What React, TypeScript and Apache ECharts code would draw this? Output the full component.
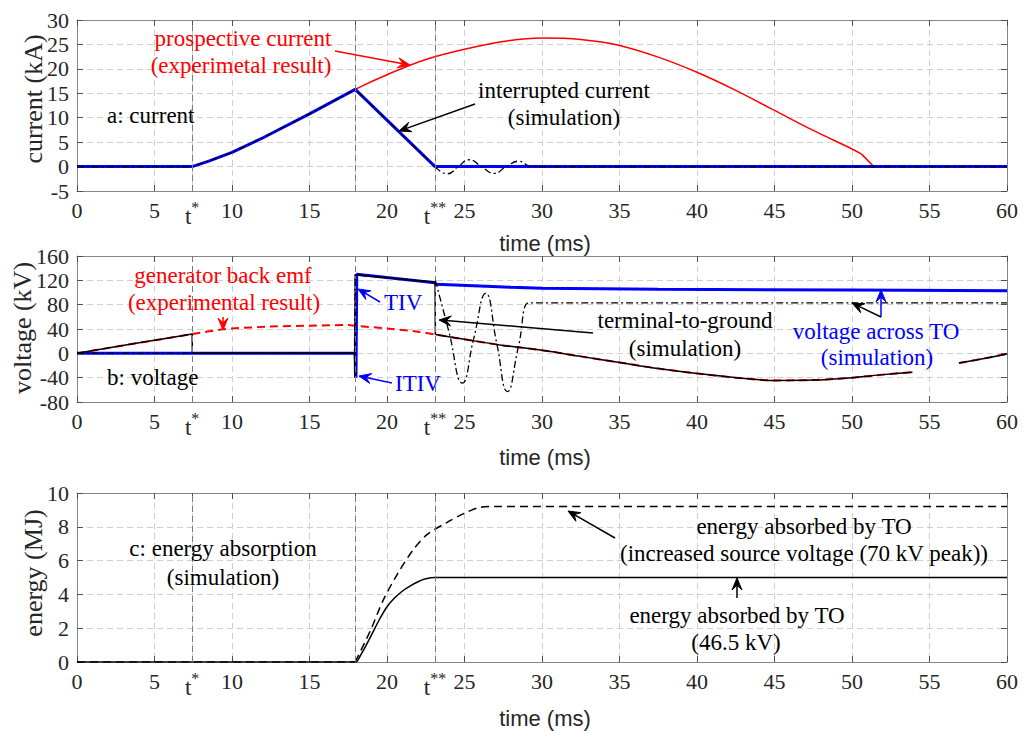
import { useEffect, useRef } from 'react';
import * as echarts from 'echarts';

const SERIF = '"Liberation Serif", "Times New Roman", Times, serif';
const SANS = '"Liberation Sans", Arial, Helvetica, sans-serif';

// special instants (ms)
const T_STAR = 7.43;
const T_ARC = 17.95;
const T_STAR2 = 23.1;

const xLabelValues = [0, 5, T_STAR, 10, 15, 20, T_STAR2, 25, 30, 35, 40, 45, 50, 55, 60];
const xTickValues = [0, 5, T_STAR, 10, 15, T_ARC, 20, T_STAR2, 25, 30, 35, 40, 45, 50, 55, 60];
const markerLines = [T_STAR, T_ARC, T_STAR2];

// ---------- panel a: current (kA) ----------
const prospFlatT = [0, 7.43];
const prospFlatV = [0, 0];
const prospArcT = [7.43, 8.5, 10, 12, 15, 17.95, 20, 22.5, 25, 27.5, 30, 32.5, 35, 37.5, 40, 42.5, 45, 47.5, 50, 50.6];
const prospArcV = [0, 1.1, 2.9, 5.9, 10.8, 15.8, 18.8, 21.9, 24.0, 25.6, 26.3, 26.0, 24.8, 22.4, 19.3, 15.6, 11.5, 7.4, 3.6, 2.6];
const prospEndT = [50.6, 51.4, 60];
const prospEndV = [2.6, 0, 0];

const interT = [0, 7.43, 8.5, 10, 12, 15, 17.95, 23.1, 60];
const interV = [0, 0, 1.1, 2.9, 5.9, 10.8, 15.8, 0, 0];

const simCurT = [0, 7.43, 8.5, 10, 12, 15, 17.95, 23.1];
const simCurV = [0, 0, 1.1, 2.9, 5.9, 10.8, 15.8, 0];
const oscCurT = [23.1, 23.9, 24.6, 25.3, 26.1, 26.9, 27.7, 28.5, 29.3, 30, 60];
const oscCurV = [0, -1.5, 0, 1.4, 0, -1.4, 0, 1.1, 0, 0, 0];

// ---------- panel b: voltage (kV) ----------
const emfT = [0, 2, 4, 6, 7.43, 9.4, 10, 12.5, 15, 17.5, 18, 20, 22, 23.1, 25, 27.5, 30, 32.5, 35, 37.5, 40, 42.5, 45, 47.5, 50, 52, 53.9, 54.0, 56.9, 58, 60];
const emfV: (number | null)[] = [0, 8.8, 17.3, 25.5, 31.7, 39.5, 41, 44, 45.5, 46.5, 45, 41, 35.5, 31, 23, 13, 5, -5, -15, -25, -33, -40, -44.5, -44, -40, -35, -31, null, -16, -11, -1];

const termJumpT = [0, 2, 4, 6, 7.43, 7.44, 17.9, 17.92, 17.95, 23.1, 23.12];
const termJumpV = [0, 8.8, 17.3, 25.5, 31.7, 0, 0, -40, 129, 117, 31];
const termTailT = [23.12, 25, 27.5, 30, 32.5, 35, 37.5, 40, 42.5, 45, 47.5, 50, 52, 53.9, 54.0, 56.9, 58, 60];
const termTailV: (number | null)[] = [31, 23, 13, 5, -5, -15, -25, -33, -40, -44.5, -44, -40, -35, -31, null, -16, -11, -1];

const acrossT = [0, 17.95, 18.0, 18.05, 23.1, 23.12, 26, 28, 30, 37.5, 50, 60];
const acrossV = [0, 0, -40, 130, 116, 113.5, 110.5, 108.5, 107, 105.2, 104, 103];

const ddT = [0, 17.9, 17.95, 23.1];
const ddV = [0, 0, 129, 117];
const oscVT = [23.12, 24.0, 24.86, 25.6, 26.37, 27.07, 27.77, 28.47, 29.16, 29.6, 60];
const oscVV = [120, 35, -49, 25, 98.7, 18, -63, 10, 83, 83, 83];

// ---------- panel c: energy (MJ) ----------
const eFlatT = [0, 18.05];
const eFlatV = [0, 0];
const eRiseT = [18.05, 18.6, 19, 19.5, 20, 20.5, 21, 21.4, 22, 22.5, 23.1, 30, 60];
const eRiseV = [0, 0.9, 1.6, 2.5, 3.27, 3.8, 4.2, 4.45, 4.75, 4.92, 5.0, 5.0, 5.0];

const eHiFlatT = [0, 17.95];
const eHiFlatV = [0, 0];
const eHiRiseT = [17.95, 18.95, 19.75, 20.7, 21.7, 22.6, 23.85, 25, 26, 27, 35, 60];
const eHiRiseV = [0, 1.9, 3.65, 5.25, 6.65, 7.55, 8.25, 8.8, 9.15, 9.2, 9.2, 9.2];

// ---------- styling ----------
const AX = '#858585';
const TICK = '#505050';
const GRID = '#cfcfcf';
const LABEL = '#262626';
const RED = '#ff0000';
const BLUE = '#0000ff';
const DASHDOT = [7, 3, 2, 3];

function pairs(t: number[], v: (number | null)[]) {
  return t.map((x, i) => [x, v[i] === null ? '-' : v[i]]);
}

function fmtX(v: number) {
  if (Math.abs(v - T_STAR) < 1e-6) return '{t|t}{s|*}';
  if (Math.abs(v - T_STAR2) < 1e-6) return '{t|t}{s|**}';
  return String(v);
}

function xAxes(gi: number) {
  const common = { gridIndex: gi, type: 'value', min: 0, max: 60, interval: 5 };
  return [
    {
      ...common,
      position: 'bottom',
      axisLine: { show: true, onZero: false, lineStyle: { color: AX, width: 1 } },
      axisTick: { show: true, inside: true, length: 6, customValues: xTickValues, lineStyle: { color: TICK } },
      axisLabel: {
        show: true,
        customValues: xLabelValues,
        margin: 8,
        color: LABEL,
        fontFamily: SERIF,
        fontSize: 22,
        formatter: fmtX,
        rich: {
          t: { fontFamily: SERIF, fontSize: 23, color: LABEL, padding: [6, 0, 0, 0] },
          s: { fontFamily: SERIF, fontSize: 16, color: LABEL, verticalAlign: 'top' },
        },
      },
      splitLine: { show: true, lineStyle: { color: GRID, type: [6, 4], width: 1 } },
    },
    {
      ...common,
      position: 'top',
      axisLine: { show: true, onZero: false, lineStyle: { color: AX, width: 1 } },
      axisTick: { show: true, inside: true, length: 6, customValues: xTickValues, lineStyle: { color: TICK } },
      axisLabel: { show: false },
      splitLine: { show: false },
    },
  ];
}

function yAxes(gi: number, min: number, max: number, interval: number) {
  const common = { gridIndex: gi, type: 'value', min, max, interval };
  return [
    {
      ...common,
      position: 'left',
      axisLine: { show: true, onZero: false, lineStyle: { color: AX, width: 1 } },
      axisTick: { show: true, inside: true, length: 6, lineStyle: { color: TICK } },
      axisLabel: { show: true, margin: 8, color: LABEL, fontFamily: SERIF, fontSize: 22 },
      splitLine: { show: true, lineStyle: { color: GRID, type: [6, 4], width: 1 } },
    },
    {
      ...common,
      position: 'right',
      axisLine: { show: true, onZero: false, lineStyle: { color: AX, width: 1 } },
      axisTick: { show: true, inside: true, length: 6, lineStyle: { color: TICK } },
      axisLabel: { show: false },
      splitLine: { show: false },
    },
  ];
}

function line(gi: number, data: any[], color: string, width: number, type: any, z: number, smooth: any = false) {
  return {
    type: 'line',
    xAxisIndex: gi * 2,
    yAxisIndex: gi * 2,
    data,
    showSymbol: false,
    symbol: 'none',
    smooth,
    connectNulls: false,
    z,
    lineStyle: { color, width, type },
    silent: true,
  };
}

function markerSeries(gi: number) {
  return {
    type: 'line',
    xAxisIndex: gi * 2,
    yAxisIndex: gi * 2,
    data: [],
    z: 1,
    silent: true,
    markLine: {
      silent: true,
      symbol: ['none', 'none'],
      label: { show: false },
      lineStyle: { color: '#7a7a7a', type: [6, 4], width: 1 },
      data: markerLines.map((x) => ({ xAxis: x })),
    },
  };
}

function txt(text: string, x: number, y: number, color = '#000', size = 23, align = 'center', family = SERIF) {
  return {
    type: 'text',
    x,
    y,
    z: 100,
    silent: true,
    style: {
      text,
      fill: color,
      fontSize: size,
      fontFamily: family,
      align,
      textAlign: align,
      verticalAlign: 'middle',
      textVerticalAlign: 'middle',
    },
  };
}

function vtxt(text: string, x: number, y: number, size = 26) {
  return {
    type: 'text',
    x,
    y,
    rotation: Math.PI / 2,
    z: 100,
    silent: true,
    style: {
      text,
      fill: LABEL,
      fontSize: size,
      fontFamily: SERIF,
      align: 'center',
      textAlign: 'center',
      verticalAlign: 'middle',
      textVerticalAlign: 'middle',
    },
  };
}

function arrow(x1: number, y1: number, x2: number, y2: number, color: string) {
  const head = 12;
  const w = 5;
  const ang = Math.atan2(y2 - y1, x2 - x1);
  const ux = Math.cos(ang);
  const uy = Math.sin(ang);
  const px = -uy;
  const py = ux;
  const bx = x2 - ux * head;
  const by = y2 - uy * head;
  const ix = x2 - ux * head * 0.6;
  const iy = y2 - uy * head * 0.6;
  return {
    type: 'group',
    z: 100,
    silent: true,
    children: [
      { type: 'line', z: 100, shape: { x1, y1, x2: ix, y2: iy }, style: { stroke: color, lineWidth: 1.5 } },
      {
        type: 'polygon',
        z: 100,
        shape: { points: [[x2, y2], [bx + px * w, by + py * w], [ix, iy], [bx - px * w, by - py * w]] },
        style: { fill: color, stroke: color, lineWidth: 1 },
      },
    ],
  };
}

export default function App() {
  const ref = useRef<HTMLDivElement>(null);

  useEffect(() => {
    if (!ref.current) return;
    const chart = echarts.init(ref.current, undefined, { renderer: 'svg' });

    const option: any = {
      animation: false,
      backgroundColor: '#ffffff',
      grid: [
        { left: 77, width: 930, top: 20, height: 171 },
        { left: 77, width: 930, top: 256, height: 146 },
        { left: 77, width: 930, top: 493, height: 169 },
      ],
      xAxis: [...xAxes(0), ...xAxes(1), ...xAxes(2)],
      yAxis: [...yAxes(0, -5, 30, 5), ...yAxes(1, -80, 160, 40), ...yAxes(2, 0, 10, 2)],
      series: [
        markerSeries(0),
        markerSeries(1),
        markerSeries(2),
        // a
        line(0, pairs(prospFlatT, prospFlatV), RED, 1.5, 'solid', 2),
        line(0, pairs(prospArcT, prospArcV), RED, 1.5, 'solid', 2, 0.35),
        line(0, pairs(prospEndT, prospEndV), RED, 1.5, 'solid', 2),
        line(0, pairs(interT, interV), BLUE, 3, 'solid', 3),
        line(0, pairs(simCurT, simCurV), '#000', 1.3, DASHDOT, 4),
        line(0, pairs(oscCurT, oscCurV), '#000', 1.3, DASHDOT, 4, true),
        // b
        line(1, pairs(acrossT, acrossV), BLUE, 3, 'solid', 2),
        line(1, pairs(emfT, emfV), RED, 2, [8, 5], 3, 0.3),
        line(1, pairs(termJumpT, termJumpV), '#000', 1.5, 'solid', 4),
        line(1, pairs(termTailT, termTailV), '#000', 1.5, 'solid', 4, 0.3),
        line(1, pairs(ddT, ddV), '#000', 1.3, DASHDOT, 5),
        line(1, pairs(oscVT, oscVV), '#000', 1.3, DASHDOT, 5, true),
        // c
        line(2, pairs(eFlatT, eFlatV), '#000', 1.5, 'solid', 3),
        line(2, pairs(eRiseT, eRiseV), '#000', 1.5, 'solid', 3, 0.3),
        line(2, pairs(eHiFlatT, eHiFlatV), '#000', 1.5, [8, 5], 3),
        line(2, pairs(eHiRiseT, eHiRiseV), '#000', 1.5, [8, 5], 3, 0.3),
      ],
      graphic: [
        // axis names
        vtxt('current (kA)', 33, 99),
        vtxt('voltage (kV)', 22, 328),
        vtxt('energy (MJ)', 33, 573),
        txt('time (ms)', 545, 243, LABEL, 22, 'center', SANS),
        txt('time (ms)', 545, 457, LABEL, 22, 'center', SANS),
        txt('time (ms)', 545, 718, LABEL, 22, 'center', SANS),
        // panel a
        txt('prospective current', 243, 38, RED),
        txt('(experimetal result)', 241, 65, RED),
        arrow(335, 51, 410, 65, RED),
        txt('a: current', 107, 115, '#000', 23, 'left'),
        txt('interrupted current', 564, 90),
        txt('(simulation)', 564, 117),
        arrow(475, 104, 399, 131, '#000'),
        // panel b
        txt('generator back emf', 223, 275, RED),
        txt('(experimental result)', 224, 302, RED),
        arrow(223, 317, 223, 330, RED),
        txt('TIV', 384, 302, BLUE, 23, 'left'),
        arrow(380, 302, 358, 289, BLUE),
        txt('ITIV', 395, 383, BLUE, 23, 'left'),
        arrow(392, 383, 359, 376, BLUE),
        txt('b: voltage', 107, 377, '#000', 23, 'left'),
        txt('terminal-to-ground', 685, 320),
        txt('(simulation)', 685, 348),
        arrow(593, 333, 439, 320, '#000'),
        txt('voltage across TO', 876, 331, BLUE),
        txt('(simulation)', 877, 357, BLUE),
        arrow(881, 317, 881, 290, BLUE),
        arrow(881, 317, 852, 303, '#000'),
        // panel c
        txt('c: energy absorption', 223, 548),
        txt('(simulation)', 223, 577),
        txt('energy absorbed by TO', 804, 526),
        txt('(increased source voltage (70 kV peak))', 804, 553),
        arrow(615, 538, 568, 511, '#000'),
        txt('energy absorbed by TO', 737, 615),
        txt('(46.5 kV)', 736, 642),
        arrow(737, 598, 737, 578, '#000'),
      ],
    };

    chart.setOption(option);
    return () => chart.dispose();
  }, []);

  return (
    <div
      ref={ref}
      style={{ position: 'absolute', left: 0, top: 0, width: 1030, height: 731, background: '#fff' }}
    />
  );
}
